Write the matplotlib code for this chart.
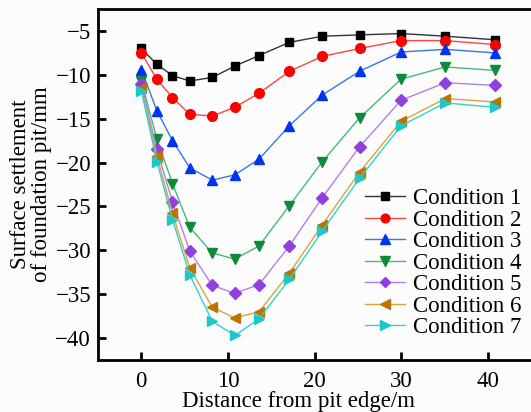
import matplotlib
matplotlib.use('Agg')
import matplotlib.pyplot as plt
import numpy as np

plt.rcParams['font.family'] = ['Liberation Serif', 'DejaVu Serif']

# distance from pit edge (m)
dist = [0, 1.8, 3.6, 5.6, 8.2, 10.8, 13.6, 17.1, 20.9, 25.2, 30.0, 35.1, 40.8]

# surface settlement (mm)
cond1 = [-7.0, -8.8, -10.1, -10.7, -10.3, -9.0, -7.8, -6.3, -5.6, -5.45, -5.3, -5.6, -6.0]
cond2 = [-7.5, -10.5, -12.6, -14.5, -14.7, -13.7, -12.1, -9.6, -7.9, -7.0, -6.1, -6.1, -6.55]
cond3 = [-9.4, -14.1, -17.5, -20.6, -22.0, -21.4, -19.6, -15.8, -12.3, -9.6, -7.4, -7.1, -7.5]
cond4 = [-10.7, -17.3, -22.4, -27.4, -30.3, -31.0, -29.5, -24.9, -19.9, -14.9, -10.5, -9.1, -9.5]
cond5 = [-11.0, -18.5, -24.5, -30.1, -34.0, -34.9, -33.9, -29.5, -24.0, -18.2, -12.9, -10.9, -11.2]
cond6 = [-11.5, -19.2, -25.8, -32.0, -36.5, -37.7, -37.0, -32.6, -27.1, -21.1, -15.3, -12.7, -13.1]
cond7 = [-11.8, -19.9, -26.5, -32.8, -38.1, -39.7, -37.8, -33.3, -27.8, -21.8, -15.8, -13.2, -13.7]

labels = ['Condition 1', 'Condition 2', 'Condition 3', 'Condition 4',
          'Condition 5', 'Condition 6', 'Condition 7']
series = [cond1, cond2, cond3, cond4, cond5, cond6, cond7]
markers = ['s', 'o', '^', 'v', 'D', '<', '>']
mcolors = ['#000000', '#ff0000', '#0033ee', '#0f8a3a', '#9040dd', '#bb7400', '#1fc8c8']
lcolors = ['#333333', '#ff4444', '#3377ee', '#44bb77', '#b080ee', '#d9a440', '#33d0d0']
msizes = [6, 7, 7.5, 7.5, 6, 7.5, 7.5]

fig = plt.figure(figsize=(5.31, 4.12), dpi=100, facecolor='#fcfcfc')
ax = fig.add_axes([98/531, 52/412, 433/531, 351/412])
ax.set_facecolor('#fcfcfc')

for y, lab, m, mc, lc, ms in zip(series, labels, markers, mcolors, lcolors, msizes):
    ax.plot(dist, y, color=lc, lw=1.0, marker=m, markersize=ms,
            markerfacecolor=mc, markeredgecolor=mc, label=lab)

ax.set_xlim(-5, 45)
ax.set_ylim(-42.5, -2.5)
ax.set_xticks([0, 10, 20, 30, 40])
ax.set_yticks([-5, -10, -15, -20, -25, -30, -35, -40])
ax.tick_params(direction='in', length=6, width=2, labelsize=16.5)
ax.tick_params(axis='x', pad=8)
ax.tick_params(axis='y', pad=5)
for s in ['left', 'bottom', 'top']:
    ax.spines[s].set_linewidth(2)
ax.spines['right'].set_visible(False)

fig.text(299/531, 1 - 401/412, 'Distance from pit edge/m', fontsize=16.5,
         ha='center', va='center')
fig.text(31/531, 1 - 184/412, 'Surface settlement\nof foundation pit/mm',
         fontsize=16.5, rotation=90, ha='center', va='center',
         multialignment='center', linespacing=1.0)

leg = ax.legend(loc='center left', bbox_to_anchor=(365/531, 1 - 263/412),
                bbox_transform=fig.transFigure, frameon=False, fontsize=16.5,
                borderpad=0, borderaxespad=0, handlelength=1.75,
                handletextpad=0.35, labelspacing=0.02, markerscale=0.9)

fig.savefig('out.png', dpi=100, facecolor=fig.get_facecolor())
